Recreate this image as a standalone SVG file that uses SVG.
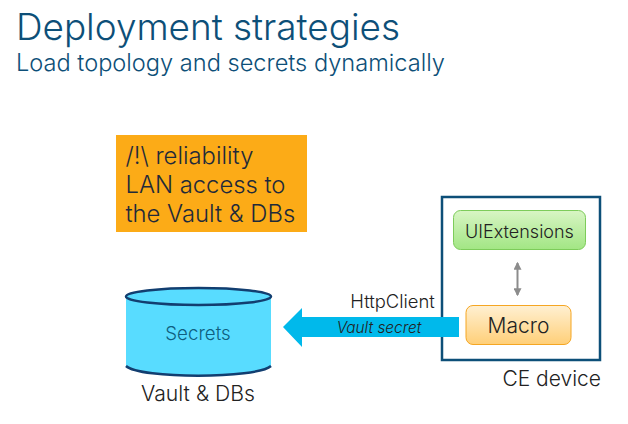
<svg xmlns="http://www.w3.org/2000/svg" width="628" height="424" viewBox="0 0 628 424">
<style>
text{font-family:Inter,"Open Sans","Liberation Sans",sans-serif;font-weight:300}
.title{fill:#0d4f78}
.lbl{fill:#1f2a3a;font-size:23.800px}
</style>
<defs>
<linearGradient id="g" x1="0" y1="0" x2="0" y2="1"><stop offset="0" stop-color="#d8f5c4"/><stop offset="1" stop-color="#a2e684"/></linearGradient>
<linearGradient id="o" x1="0" y1="0" x2="0" y2="1"><stop offset="0" stop-color="#fff0d2"/><stop offset="1" stop-color="#ffcf78"/></linearGradient>
<marker id="ah" markerWidth="4" markerHeight="4" refX="3.4" refY="2" orient="auto-start-reverse"><path d="M0 0L4 2L0 4Z" fill="#8c8c8c"/></marker>
</defs>
<rect width="628" height="424" fill="#fff"/>
<g id="heading">
<text class="title" x="16" y="40" style="font-size:36.9px">Deployment strategies</text>
<text class="title" x="16" y="71" style="font-size:23.6px">Load topology and secrets dynamically</text>
</g>
<g id="note">
<rect x="116" y="135" width="191" height="97" fill="#fcab17"/>
<text class="lbl" x="125.500" y="164">/!\ reliability</text>
<text class="lbl" x="125.500" y="193">LAN access to</text>
<text class="lbl" x="125.500" y="222">the Vault &amp; DBs</text>
</g>
<g id="device">
<rect x="442" y="197" width="158" height="163" fill="#fff" stroke="#0d4f78" stroke-width="2.5"/>
<text x="601" y="386" text-anchor="end" fill="#222" style="font-size:21px">CE device</text>
</g>
<g id="vault">
<path d="M126 297V366C140 379 256 379 271 366V297Z" fill="#58dcff"/>
<path d="M126 366C140 379 256 379 271 366" fill="none" stroke="#123e70" stroke-width="2.5"/>
<ellipse cx="198.500" cy="296.500" rx="72.500" ry="8.500" fill="#58dcff" stroke="#123e70" stroke-width="2.500"/>
<text x="198" y="340" text-anchor="middle" fill="#0f5f80" style="font-size:18.700px">Secrets</text>
<text x="198" y="401" text-anchor="middle" fill="#222" style="font-size:21.200px">Vault &amp; DBs</text>
</g>
<g id="connectors">
<path d="M459 317H302V308L283 327L302 347V337H459Z" fill="#00b9eb"/>
<path d="M517.500 263V295" stroke="#8c8c8c" stroke-width="2" marker-start="url(#ah)" marker-end="url(#ah)" fill="none"/>
<text x="392.500" y="308" text-anchor="middle" fill="#222" style="font-size:18.400px">HttpClient</text>
<text x="379" y="333" text-anchor="middle" fill="#222" font-style="italic" style="font-size:15.400px">Vault secret</text>
</g>
<g id="uiextensions">
<rect x="453.500" y="210.500" width="132" height="39" rx="7" fill="url(#g)" stroke="#7dcc5a"/>
<text x="519.500" y="237.500" text-anchor="middle" fill="#222" style="font-size:18px">UIExtensions</text>
</g>
<g id="macro">
<rect x="466" y="305.500" width="105" height="39" rx="7" fill="url(#o)" stroke="#f5a623"/>
<text x="518.500" y="333" text-anchor="middle" fill="#222" style="font-size:21px">Macro</text>
</g>
</svg>
